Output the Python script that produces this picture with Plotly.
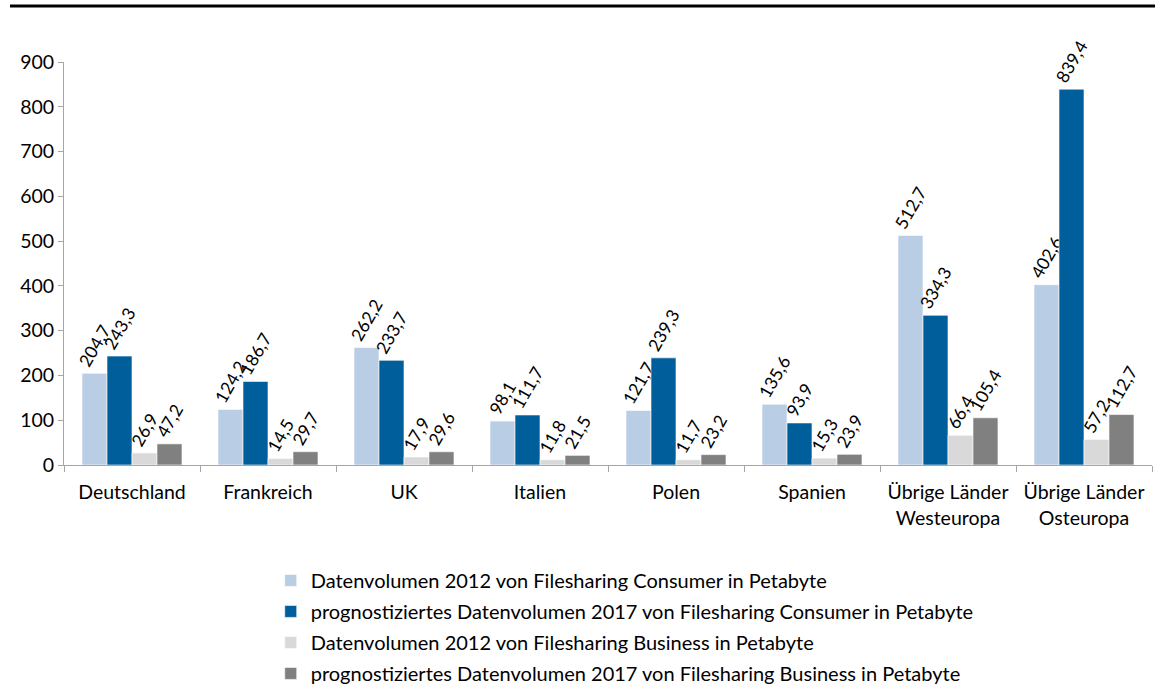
import plotly.graph_objects as go

categories = ["Deutschland", "Frankreich", "UK", "Italien", "Polen", "Spanien",
              "Übrige Länder<br>Westeuropa", "Übrige Länder<br>Osteuropa"]
consumer_2012 = [204.7, 124.2, 262.2, 98.1, 121.7, 135.6, 512.7, 402.6]
consumer_2017 = [243.3, 186.7, 233.7, 111.7, 239.3, 93.9, 334.3, 839.4]
business_2012 = [26.9, 14.5, 17.9, 11.8, 11.7, 15.3, 66.4, 57.2]
business_2017 = [47.2, 29.7, 29.6, 21.5, 23.2, 23.9, 105.4, 112.7]

series_names = [
    "Datenvolumen 2012 von Filesharing Consumer in Petabyte",
    "prognostiziertes Datenvolumen 2017 von Filesharing Consumer in Petabyte",
    "Datenvolumen 2012 von Filesharing Business in Petabyte",
    "prognostiziertes Datenvolumen 2017 von Filesharing Business in Petabyte",
]
series_values = [consumer_2012, consumer_2017, business_2012, business_2017]
colors = ["#B9CDE5", "#005F9B", "#D9D9D9", "#808080"]

FONT = "Lato"
FS = 19.5
W, H = 1155, 688
ML, MR, MT, MB = 64, 3, 62, 223

fig = go.Figure()
for i, (name, vals, col) in enumerate(zip(series_names, series_values, colors)):
    fig.add_trace(go.Bar(
        x=categories, y=vals, name=name, legendgroup=f"g{i}",
        marker=dict(color=col, line=dict(color="white", width=0.6)),
        texttemplate="%{y:.1f}", textposition="outside", textangle=-60,
        constraintext="none", cliponaxis=False,
        textfont=dict(family=FONT, size=17.5, color="#000000"),
        hoverinfo="skip",
    ))

fig.update_layout(
    width=W, height=H,
    margin=dict(l=ML, r=MR, t=MT, b=MB, autoexpand=False),
    paper_bgcolor="white", plot_bgcolor="white",
    separators=",.",
    barmode="group", bargap=0.265, bargroupgap=0,
    font=dict(family=FONT, size=FS, color="#000000"),
    showlegend=True,
    legend=dict(
        orientation="v", x=0.19, xanchor="left", y=-0.238, yanchor="top",
        font=dict(family=FONT, size=20, color="#000000"),
        itemwidth=30, tracegroupgap=2, traceorder="grouped",
        bgcolor="rgba(0,0,0,0)",
    ),
    xaxis=dict(
        automargin=False,
        showline=True, linecolor="#A6A6A6", linewidth=1,
        ticks="outside", tickson="boundaries", ticklen=6, tickcolor="#A6A6A6",
        ticklabelstandoff=10,
        showgrid=False, tickfont=dict(family=FONT, size=FS),
    ),
    yaxis=dict(
        automargin=False,
        range=[0, 900], dtick=100, showline=True, linecolor="#A6A6A6", linewidth=1,
        ticks="outside", ticklen=5, tickcolor="#A6A6A6",
        showgrid=False, zeroline=False, tickfont=dict(family=FONT, size=FS),
    ),
)

# top black rule
plot_h = H - MT - MB
plot_w = W - ML - MR
fig.add_shape(type="line", xref="paper", yref="paper",
              x0=(10 - ML) / plot_w, x1=(W - ML) / plot_w,
              y0=1 + (MT - 6) / plot_h, y1=1 + (MT - 6) / plot_h,
              line=dict(color="black", width=3))

fig.write_html("out.html", config={"displayModeBar": False},
               post_script="document.body.style.margin='0';document.body.style.padding='0';")
